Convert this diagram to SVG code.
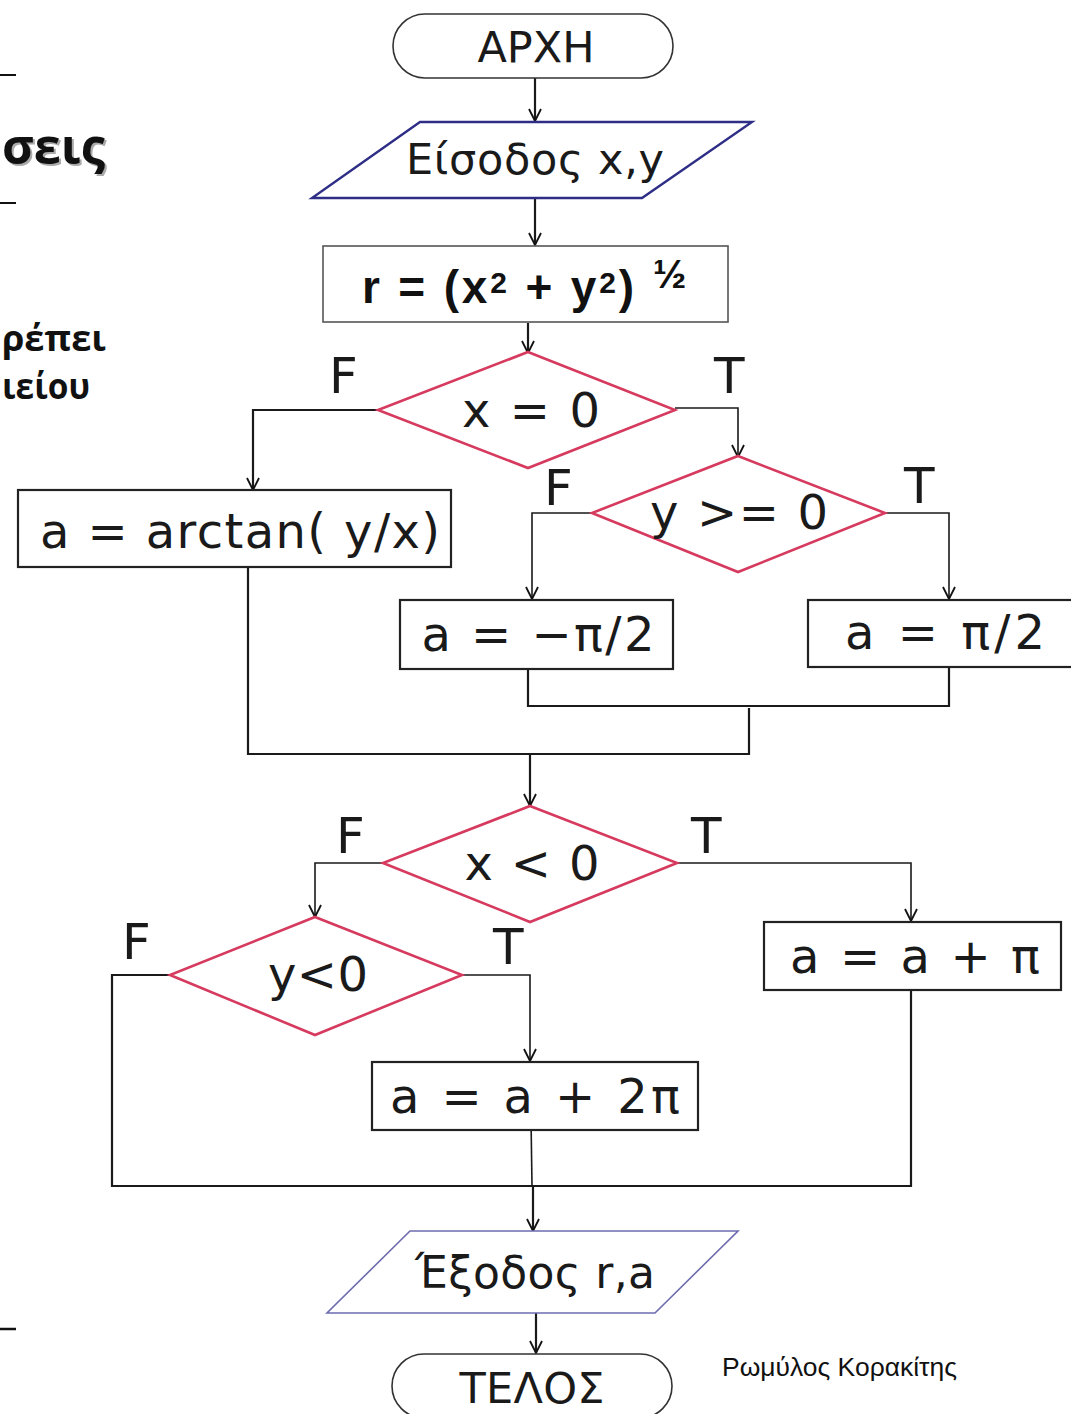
<svg xmlns="http://www.w3.org/2000/svg" width="1071" height="1414" viewBox="0 0 1071 1414">
<defs>
<marker id="arr" viewBox="0 0 14 14" refX="13" refY="7" markerWidth="14" markerHeight="14" markerUnits="userSpaceOnUse" orient="auto">
<path d="M1,1 L13,7 L1,13" fill="none" stroke="#111" stroke-width="1.8"/>
</marker>
<style>
.t{font-family:"DejaVu Sans","Noto Sans",sans-serif;fill:#1a1a1a;text-anchor:middle}
.lbl{font-family:"DejaVu Sans","Noto Sans",sans-serif;fill:#1a1a1a;font-size:50px}
.term{fill:#fff;stroke:#333;stroke-width:1.6}
.box{fill:#fff;stroke:#222;stroke-width:2.2}
.dec{fill:#fff;stroke:#d63a5e;stroke-width:2.6}
.io1{fill:#fff;stroke:#2e2e86;stroke-width:2.4}
.io2{fill:#fff;stroke:#6c6cae;stroke-width:1.6}
.c{fill:none;stroke:#1a1a1a;stroke-width:2.2}
.c2{fill:none;stroke:#1a1a1a;stroke-width:1.6}
.side{font-family:"Open Sans","DejaVu Sans",sans-serif;font-weight:bold;fill:#111}
</style>
</defs>
<rect width="1071" height="1414" fill="#fff"/>

<g id="side">
<line x1="0" y1="75" x2="16" y2="75" stroke="#111" stroke-width="2"/>
<line x1="0" y1="203" x2="16" y2="203" stroke="#111" stroke-width="2"/>
<line x1="0" y1="1329" x2="16" y2="1329" stroke="#111" stroke-width="2.5"/>
<text class="side" x="4" y="166" font-size="50" textLength="103" lengthAdjust="spacingAndGlyphs" style="fill:#aaa">σεις</text>
<text class="side" x="2" y="164" font-size="50" textLength="103" lengthAdjust="spacingAndGlyphs">σεις</text>
<text class="side" x="2" y="351" font-size="36" textLength="104" lengthAdjust="spacingAndGlyphs">ρέπει</text>
<text class="side" x="2" y="399" font-size="36" textLength="88" lengthAdjust="spacingAndGlyphs">ιείου</text>
</g>

<g id="connectors">
<line class="c" x1="535" y1="78" x2="535" y2="121" marker-end="url(#arr)"/>
<line class="c" x1="535" y1="199" x2="535" y2="245" marker-end="url(#arr)"/>
<line class="c" x1="528" y1="323" x2="528" y2="353" marker-end="url(#arr)"/>
<polyline class="c" points="378,410 253,410 253,490" marker-end="url(#arr)"/>
<polyline class="c2" points="675,408 738,408 738,457" marker-end="url(#arr)"/>
<polyline class="c2" points="592,513 532,513 532,599" marker-end="url(#arr)"/>
<polyline class="c2" points="885,513 949,513 949,599" marker-end="url(#arr)"/>
<polyline class="c" points="528,669 528,706 949,706 949,668"/>
<polyline class="c" points="248,567 248,754 749,754 749,708"/>
<line class="c" x1="530" y1="754" x2="530" y2="806" marker-end="url(#arr)"/>
<polyline class="c2" points="383,863 315,863 315,917" marker-end="url(#arr)"/>
<polyline class="c2" points="677,863 911,863 911,921" marker-end="url(#arr)"/>
<polyline class="c2" points="462,975 530,975 530,1061" marker-end="url(#arr)"/>
<polyline class="c" points="170,975 112,975 112,1186 911,1186 911,990"/>
<line class="c2" x1="531" y1="1118" x2="532" y2="1186"/>
<line class="c" x1="533" y1="1186" x2="533" y2="1231" marker-end="url(#arr)"/>
<line class="c" x1="536" y1="1313" x2="536" y2="1353" marker-end="url(#arr)"/>
</g>

<g id="start">
<rect class="term" x="393" y="14" width="280" height="64" rx="32"/>
<text class="t" x="536" y="62" font-size="43">ΑΡΧΗ</text>
</g>

<g id="input">
<polygon class="io1" points="420,122 752,122 642,198 312,198"/>
<text class="t" x="535" y="174" font-size="43" textLength="258">Είσοδος x,y</text>
</g>

<g id="calc-r">
<rect x="323" y="246" width="405" height="76" fill="#fff" stroke="#555" stroke-width="1.6"/>
<text x="362" y="303" font-family="Liberation Sans, Arial, sans-serif" font-weight="bold" font-size="46" fill="#111" textLength="272">r = (x<tspan font-size="30" dy="-10">2</tspan><tspan dy="10"> + y</tspan><tspan font-size="30" dy="-10">2</tspan><tspan dy="10">)</tspan></text>
<text x="653" y="288" font-family="Liberation Sans, Arial, sans-serif" font-weight="bold" font-size="40" fill="#111">½</text>
</g>

<g id="dec-x0">
<polygon class="dec" points="528,352 675,410 528,468 378,410"/>
<text class="t" x="531" y="427" font-size="48" textLength="138">x = 0</text>
<text class="lbl" x="329" y="393">F</text>
<text class="lbl" x="714" y="393">T</text>
</g>

<g id="atan">
<rect class="box" x="18" y="490" width="433" height="77"/>
<text class="t" x="240" y="548" font-size="48" textLength="400">a = arctan( y/x)</text>
</g>

<g id="dec-y0">
<polygon class="dec" points="738,456 885,513 738,572 592,513"/>
<text class="t" x="739" y="529" font-size="48" textLength="178">y &gt;= 0</text>
<text class="lbl" x="544" y="505">F</text>
<text class="lbl" x="904" y="503">T</text>
</g>

<g id="neg-half-pi">
<rect class="box" x="400" y="600" width="273" height="69"/>
<text class="t" x="538" y="651" font-size="48" textLength="233">a = −π/2</text>
</g>

<g id="half-pi">
<rect class="box" x="808" y="600" width="270" height="67"/>
<text class="t" x="945" y="649" font-size="48" textLength="200">a = π/2</text>
</g>

<g id="dec-xlt0">
<polygon class="dec" points="530,806 677,863 530,922 383,863"/>
<text class="t" x="532" y="880" font-size="48" textLength="135">x &lt; 0</text>
<text class="lbl" x="336" y="853">F</text>
<text class="lbl" x="691" y="853">T</text>
</g>

<g id="dec-ylt0">
<polygon class="dec" points="315,917 462,975 315,1035 170,975"/>
<text class="t" x="318" y="991" font-size="48" textLength="100">y&lt;0</text>
<text class="lbl" x="122" y="959">F</text>
<text class="lbl" x="493" y="964">T</text>
</g>

<g id="add-pi">
<rect class="box" x="764" y="922" width="297" height="68"/>
<text class="t" x="915" y="973" font-size="48" textLength="250">a = a + π</text>
</g>

<g id="add-2pi">
<rect class="box" x="372" y="1062" width="326" height="68"/>
<text class="t" x="535" y="1113" font-size="48" textLength="290">a = a + 2π</text>
</g>

<g id="output">
<polygon class="io2" points="410,1231 738,1231 655,1313 327,1313"/>
<text class="t" x="535" y="1288" font-size="44" textLength="240">Έξοδος r,a</text>
</g>

<g id="end">
<rect class="term" x="392" y="1354" width="280" height="64" rx="32"/>
<text class="t" x="532" y="1403" font-size="43" textLength="145">ΤΕΛΟΣ</text>
</g>

<text x="722" y="1376" font-family="Liberation Sans Narrow, Liberation Sans, Arial, sans-serif" font-size="26" fill="#111" textLength="235" lengthAdjust="spacingAndGlyphs">Ρωμύλος Κορακίτης</text>
</svg>
